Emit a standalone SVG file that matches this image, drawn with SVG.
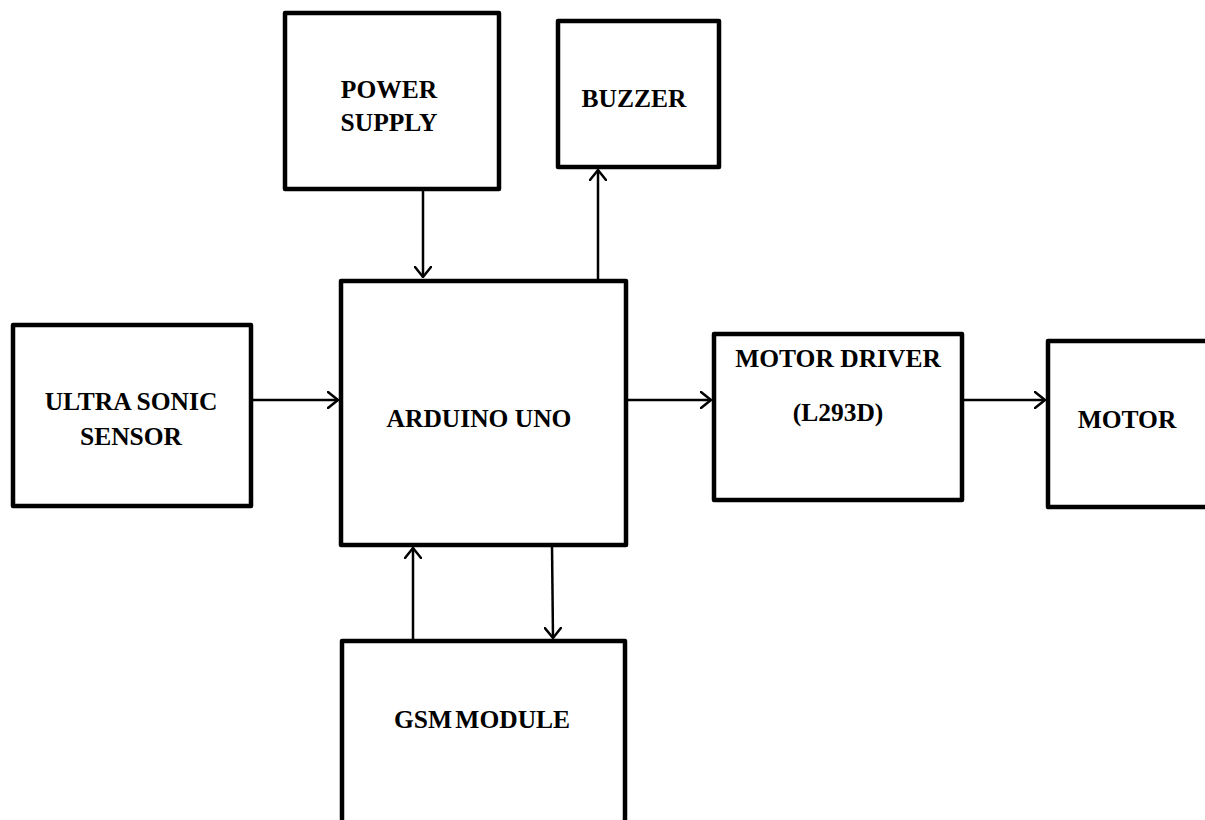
<svg xmlns="http://www.w3.org/2000/svg" width="1205" height="820" viewBox="0 0 1205 820">
<style>
.box{fill:#fff;stroke:#000;stroke-width:4.5;stroke-linejoin:round}
.lbl{font-family:"Liberation Serif","Times New Roman",serif;font-weight:bold;font-size:25.5px;fill:#000;text-anchor:middle}
.con{stroke:#000;stroke-width:2.5;fill:none}
.ah{stroke:#000;stroke-width:2.5;fill:none;stroke-linecap:round;stroke-linejoin:round}
</style>
<defs>
<marker id="arr" viewBox="0 0 12 18" refX="11" refY="9" markerWidth="12" markerHeight="18" markerUnits="userSpaceOnUse" orient="auto">
<path d="M1,1 L11,9 L1,17" class="ah"/>
</marker>
</defs>
<rect width="1205" height="820" fill="#fff"/>
<g id="power-supply"><rect class="box" x="285" y="13" width="214" height="176"/><text class="lbl" x="389" y="98">POWER</text><text class="lbl" x="389" y="131">SUPPLY</text></g>
<g id="buzzer"><rect class="box" x="558" y="21" width="161" height="146"/><text class="lbl" x="634" y="107">BUZZER</text></g>
<g id="ultrasonic"><rect class="box" x="13" y="325" width="238" height="181"/><text class="lbl" x="131" y="410">ULTRA SONIC</text><text class="lbl" x="131" y="445">SENSOR</text></g>
<g id="arduino"><rect class="box" x="341" y="281" width="285" height="264"/><text class="lbl" x="479" y="427">ARDUINO UNO</text></g>
<g id="motor-driver"><rect class="box" x="714" y="334" width="248" height="166"/><text class="lbl" x="838" y="367">MOTOR DRIVER</text><text class="lbl" x="838" y="421">(L293D)</text></g>
<g id="motor"><rect class="box" x="1048" y="341" width="170" height="166"/><text class="lbl" x="1127" y="428">MOTOR</text></g>
<g id="gsm"><rect class="box" x="342" y="641" width="283" height="200"/><text class="lbl" x="482" y="728" word-spacing="-3">GSM MODULE</text></g>
<g id="connectors">
<line class="con" x1="423" y1="190" x2="423" y2="277" marker-end="url(#arr)"/>
<line class="con" x1="598" y1="280" x2="598" y2="170" marker-end="url(#arr)"/>
<line class="con" x1="252" y1="400" x2="338" y2="400" marker-end="url(#arr)"/>
<line class="con" x1="627" y1="400" x2="711" y2="400" marker-end="url(#arr)"/>
<line class="con" x1="963" y1="400" x2="1045" y2="400" marker-end="url(#arr)"/>
<line class="con" x1="413" y1="640" x2="413" y2="548" marker-end="url(#arr)"/>
<line class="con" x1="552" y1="546" x2="553" y2="638" marker-end="url(#arr)"/>
</g>
</svg>
